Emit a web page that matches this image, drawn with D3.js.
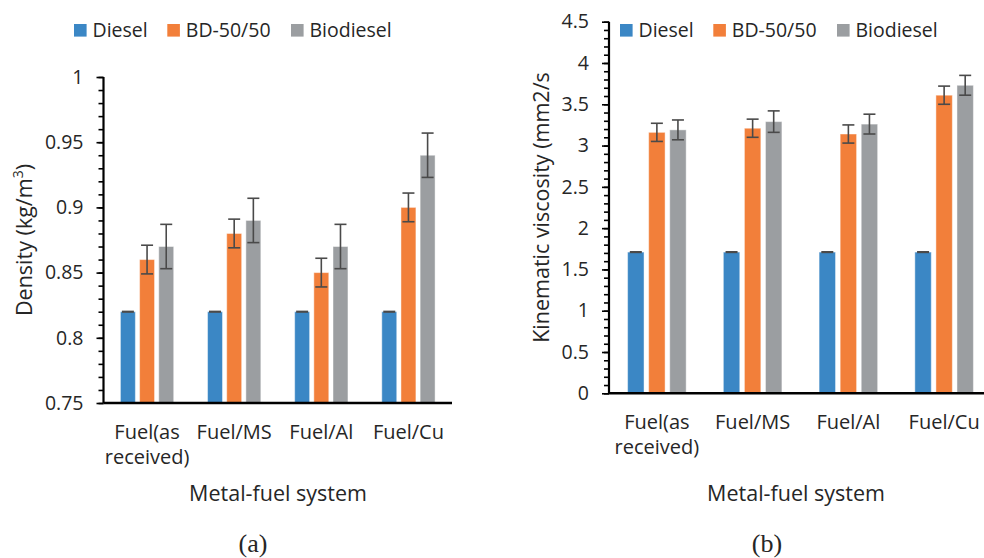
<!DOCTYPE html>
<html><head><meta charset="utf-8">
<script src="https://cdn.jsdelivr.net/npm/d3@7"></script>
<style>
html,body{margin:0;padding:0;background:#fff;}
svg text{font-family:"Open Sans",sans-serif;fill:#262626;}
</style></head>
<body>
<svg id="chart" width="984" height="558"></svg>
<script>
// ---- data ----
const categories = ["Fuel(as received)", "Fuel/MS", "Fuel/Al", "Fuel/Cu"];
const categoryLines = [["Fuel(as", "received)"], ["Fuel/MS"], ["Fuel/Al"], ["Fuel/Cu"]];
const seriesNames = ["Diesel", "BD-50/50", "Biodiesel"];
const seriesColors = ["#3b87c5", "#f27f3a", "#9b9ea1"];

const densityDiesel = [0.82, 0.82, 0.82, 0.82];
const densityBD = [0.86, 0.88, 0.85, 0.90];
const densityBio = [0.87, 0.89, 0.87, 0.94];
const densityErrDiesel = [0, 0, 0, 0];
const densityErrBD = [0.011, 0.011, 0.011, 0.011];
const densityErrBio = [0.017, 0.017, 0.017, 0.017];
const densityTicks = [0.75, 0.8, 0.85, 0.9, 0.95, 1];

const viscDiesel = [1.71, 1.71, 1.71, 1.71];
const viscBD = [3.16, 3.21, 3.14, 3.61];
const viscBio = [3.19, 3.29, 3.26, 3.73];
const viscErrDiesel = [0, 0, 0, 0];
const viscErrBD = [0.11, 0.11, 0.11, 0.11];
const viscErrBio = [0.12, 0.13, 0.12, 0.12];
const viscTicks = [0, 0.5, 1, 1.5, 2, 2.5, 3, 3.5, 4, 4.5];

// ---- drawing ----
const svg = d3.select("#chart");

function drawPanel(cfg) {
  const g = svg.append("g");
  const x0 = d3.scaleBand().domain(categories).range([cfg.x0, cfg.x1])
    .paddingInner(0.34).paddingOuter(0.17);
  const x1 = d3.scaleBand().domain(seriesNames).range([0, x0.bandwidth()])
    .paddingInner(0.22).paddingOuter(0.11);
  const y = d3.scaleLinear().domain(cfg.domain).range([cfg.yBottom, cfg.yTop]);

  const rows = [];
  categories.forEach((c, i) => {
    seriesNames.forEach((s, j) => {
      rows.push({c, s, j, v: cfg.values[j][i], e: cfg.errors[j][i]});
    });
  });

  // bars
  g.selectAll("rect.bar").data(rows).enter().append("rect")
    .attr("class", "bar")
    .attr("x", d => x0(d.c) + x1(d.s))
    .attr("width", x1.bandwidth())
    .attr("y", d => y(d.v))
    .attr("height", d => y(cfg.domain[0]) - y(d.v))
    .attr("fill", d => seriesColors[d.j])
    .attr("stroke", "rgba(255,255,255,0.45)")
    .attr("stroke-width", 1);

  // error bars
  const capW = 12;
  const eb = g.selectAll("g.err").data(rows).enter().append("g").attr("class", "err")
    .attr("stroke", "#4a4a4a").attr("stroke-width", 1.6);
  eb.append("line")
    .attr("x1", d => x0(d.c) + x1(d.s) + x1.bandwidth() / 2)
    .attr("x2", d => x0(d.c) + x1(d.s) + x1.bandwidth() / 2)
    .attr("y1", d => y(d.v + d.e)).attr("y2", d => y(d.v - d.e));
  eb.append("line")
    .attr("x1", d => x0(d.c) + x1(d.s) + x1.bandwidth() / 2 - capW / 2)
    .attr("x2", d => x0(d.c) + x1(d.s) + x1.bandwidth() / 2 + capW / 2)
    .attr("y1", d => y(d.v + d.e)).attr("y2", d => y(d.v + d.e))
    .attr("stroke-width", d => d.e === 0 ? 2.2 : 1.6);
  eb.filter(d => d.e > 0).append("line")
    .attr("x1", d => x0(d.c) + x1(d.s) + x1.bandwidth() / 2 - capW / 2)
    .attr("x2", d => x0(d.c) + x1(d.s) + x1.bandwidth() / 2 + capW / 2)
    .attr("y1", d => y(d.v - d.e)).attr("y2", d => y(d.v - d.e));

  // y axis minor
  const minor = d3.range(0, Math.round((cfg.domain[1] - cfg.domain[0]) / cfg.minorStep) + 1)
    .map(k => cfg.domain[0] + k * cfg.minorStep);
  const minorAxis = g.append("g").attr("transform", `translate(${cfg.x0},0)`)
    .call(d3.axisLeft(y).tickValues(minor).tickSize(5).tickFormat(""));
  minorAxis.select(".domain").remove();
  minorAxis.selectAll("line").attr("stroke", "#000").attr("stroke-width", 1.6);

  const majorAxis = g.append("g").attr("transform", `translate(${cfg.x0},0)`)
    .call(d3.axisLeft(y).tickValues(cfg.ticks).tickSize(7).tickPadding(13)
      .tickFormat(d3.format("")));
  majorAxis.select(".domain").attr("stroke", "#000").attr("stroke-width", 2.2)
    .attr("d", `M0,${cfg.yTop}V${cfg.yBottom}`);
  majorAxis.selectAll("line").attr("stroke", "#000").attr("stroke-width", 1.6);
  majorAxis.selectAll("text").style("font-family", '"Open Sans",sans-serif')
    .style("font-size", "19.5px").attr("fill", "#262626");

  // x axis
  const xAxis = g.append("g").attr("transform", `translate(0,${cfg.yBottom})`)
    .call(d3.axisBottom(x0).tickSize(0).tickFormat(""));
  xAxis.select(".domain").attr("stroke", "#000").attr("stroke-width", 2.4)
    .attr("d", `M${cfg.x0},0H${cfg.x1}`);

  // category labels
  const cl = g.selectAll("text.cat").data(categories).enter().append("text")
    .attr("class", "cat")
    .attr("text-anchor", "middle")
    .style("font-size", "20px")
    .attr("x", d => x0(d) + x0.bandwidth() / 2)
    .attr("y", cfg.yBottom + 36);
  cl.selectAll("tspan").data((d, i) => categoryLines[i]).enter().append("tspan")
    .attr("x", function () { return d3.select(this.parentNode).attr("x"); })
    .attr("dy", (d, k) => k === 0 ? 0 : 25)
    .text(d => d);

  // x title
  g.append("text").attr("text-anchor", "middle").style("font-size", "21.5px")
    .attr("x", cfg.titleX).attr("y", 501).text("Metal-fuel system");

  // y title
  const yt = g.append("text").attr("text-anchor", "middle").style("font-size", "21.5px")
    .attr("transform", `translate(${cfg.yTitleX},${(cfg.yTop + cfg.yBottom) / 2}) rotate(-90)`);
  cfg.yTitle(yt);

  // legend
  const lg = g.selectAll("g.leg").data(seriesNames).enter().append("g").attr("class", "leg")
    .attr("transform", (d, i) => `translate(${cfg.legendX + [0, 93.3, 217][i]},24)`);
  lg.append("rect").attr("width", 12.6).attr("height", 12.6).attr("fill", (d, i) => seriesColors[i]);
  lg.append("text").attr("x", 18.5).attr("y", 12.8).style("font-size", "19.5px").text(d => d);

  // caption
  g.append("text").attr("text-anchor", "middle")
    .style("font-family", '"Liberation Serif","Times New Roman",serif').style("font-size", "26px")
    .attr("x", cfg.captionX).attr("y", 552).text(cfg.caption);
}

drawPanel({
  x0: 103.5, x1: 452, yTop: 77, yBottom: 403,
  domain: [0.75, 1], ticks: densityTicks, minorStep: 0.01,
  values: [densityDiesel, densityBD, densityBio],
  errors: [densityErrDiesel, densityErrBD, densityErrBio],
  titleX: 278, yTitleX: 32, legendX: 74, captionX: 253, caption: "(a)",
  yTitle: t => {
    t.append("tspan").text("Density (kg/m");
    t.append("tspan").attr("baseline-shift", "super").style("font-size", "14px").text("3");
    t.append("tspan").text(")");
  }
});

drawPanel({
  x0: 609, x1: 992, yTop: 21.7, yBottom: 393.3,
  domain: [0, 4.5], ticks: viscTicks, minorStep: 0.1,
  values: [viscDiesel, viscBD, viscBio],
  errors: [viscErrDiesel, viscErrBD, viscErrBio],
  titleX: 796, yTitleX: 549, legendX: 620, captionX: 767, caption: "(b)",
  yTitle: t => { t.text("Kinematic viscosity (mm2/s"); }
});
</script>
</body></html>
